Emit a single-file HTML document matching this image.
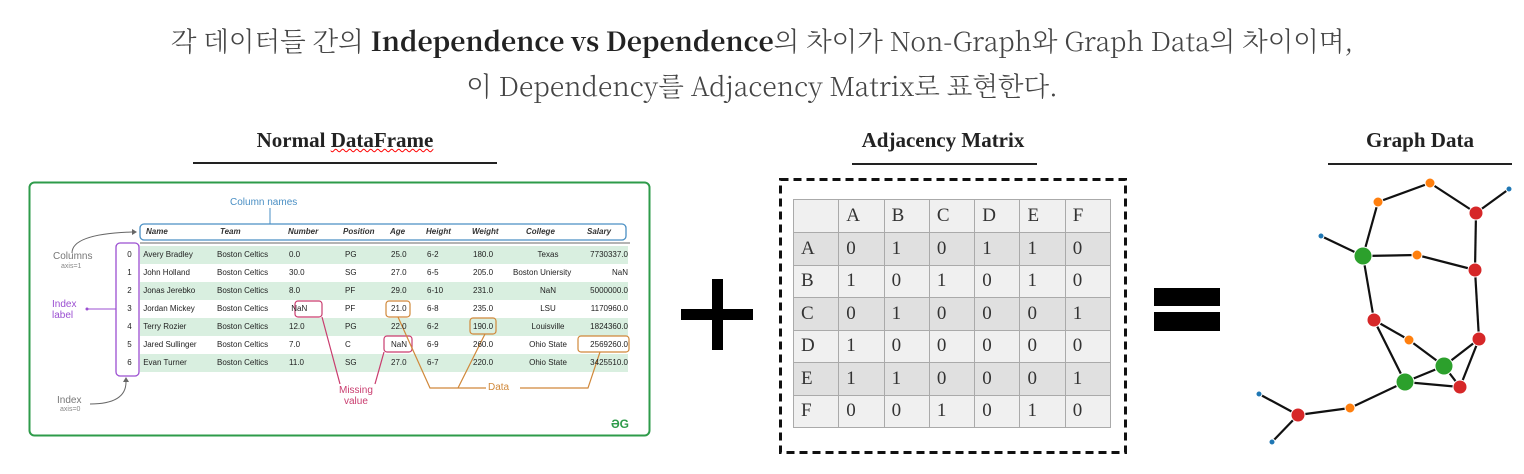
<!DOCTYPE html>
<html><head><meta charset="utf-8"><style>
body{margin:0;width:1524px;height:474px;background:#fff;overflow:hidden;position:relative;font-family:"Liberation Serif","Noto Serif CJK KR",serif;color:#333}
.a{position:absolute;white-space:nowrap}
.t{font-size:26.5px;color:#444;left:0;width:1524px;text-align:center;font-family:"Noto Serif CJK KR",serif;font-weight:300}
.h{font-size:21px;font-weight:bold;color:#222;text-align:center}
.u{position:absolute;height:2px;background:#222}
.df{font-family:"Liberation Sans","DejaVu Sans",sans-serif}
td{padding:0;white-space:nowrap}
</style></head><body>
<div class="a t" style="top:20px">각 데이터들 간의 <b style="color:#222;font-weight:bold">Independence vs Dependence</b>의 차이가 Non-Graph와 Graph Data의 차이이며,</div>
<div class="a t" style="top:65px">이 Dependency를 Adjacency Matrix로 표현한다.</div>

<div class="a h" style="left:193px;width:304px;top:128px">Normal <span style="text-decoration:underline wavy red;text-decoration-thickness:1px">DataFrame</span></div>
<div class="u" style="left:193px;width:304px;top:162px"></div>
<div class="a h" style="left:800px;width:286px;top:128px">Adjacency Matrix</div>
<div class="u" style="left:852px;width:185px;top:163px"></div>
<div class="a h" style="left:1320px;width:200px;top:128px">Graph Data</div>
<div class="u" style="left:1328px;width:184px;top:163px"></div>

<svg class="a" style="left:0;top:0" width="1524" height="474">
<rect x="29.5" y="182.5" width="620" height="253" rx="5" fill="#fff" stroke="#2e9b4a" stroke-width="2"/>
<g fill="#d9efe0"><rect x="140" y="246" width="488" height="18"/><rect x="140" y="282" width="488" height="18"/><rect x="140" y="318" width="488" height="18"/><rect x="140" y="354" width="488" height="18"/></g>
<rect x="140" y="224" width="486" height="16" rx="4" fill="none" stroke="#4a8fc4" stroke-width="1.3"/>
<line x1="140" y1="243" x2="630" y2="243" stroke="#888" stroke-width="1.2"/>
<line x1="270" y1="208" x2="270" y2="224" stroke="#4a8fc4"/>
<rect x="116" y="243" width="23" height="133" rx="4" fill="none" stroke="#9b4fd1" stroke-width="1.3"/>
<line x1="87" y1="309" x2="116" y2="309" stroke="#9b4fd1"/><circle cx="87" cy="309" r="1.5" fill="#9b4fd1"/>
<path d="M72 253 Q72 234 132 232" fill="none" stroke="#666"/><path d="M132 229 l5 3 l-5 3z" fill="#666"/>
<path d="M90 404 Q126 404 126 382" fill="none" stroke="#666"/><path d="M123 382 l3 -5 l3 5z" fill="#666"/>
<g fill="none" stroke-width="1.2">
<rect x="295" y="301" width="27" height="16" rx="3" stroke="#c93c6e"/>
<rect x="384" y="336" width="28" height="16" rx="3" stroke="#c93c6e"/>
<rect x="386" y="301" width="24" height="16" rx="3" stroke="#d0883a"/>
<rect x="470" y="318" width="26" height="16" rx="3" stroke="#d0883a"/>
<rect x="578" y="336" width="51" height="16" rx="3" stroke="#d0883a"/>
<path d="M322 317 L340 384 M384 352 L375 384" stroke="#c93c6e"/>
<path d="M398 317 L430 388 L486 388 M485 334 L458 388 M600 352 L588 388 L520 388" stroke="#d0883a"/>
</g>
<text x="620" y="428" font-family="Liberation Sans" font-size="12" fill="#2e9b4a" text-anchor="middle" font-weight="bold">ƏG</text>

<rect x="780.5" y="179.5" width="345" height="273" fill="none" stroke="#111" stroke-width="3" stroke-dasharray="8,5"/>
<path d="M681 309h72v11h-72z M712 279h11v71h-11z M1154 288h66v18h-66z M1154 312h66v19h-66z" fill="#000"/>

<g stroke="#111" stroke-width="2.2">
<line x1="1430" y1="183" x2="1378" y2="202"/><line x1="1430" y1="183" x2="1476" y2="213"/><line x1="1476" y1="213" x2="1509" y2="189"/>
<line x1="1378" y1="202" x2="1363" y2="256"/><line x1="1321" y1="236" x2="1363" y2="256"/><line x1="1363" y1="256" x2="1417" y2="255"/>
<line x1="1417" y1="255" x2="1475" y2="270"/><line x1="1476" y1="213" x2="1475" y2="270"/><line x1="1363" y1="256" x2="1374" y2="320"/>
<line x1="1475" y1="270" x2="1479" y2="339"/><line x1="1374" y1="320" x2="1409" y2="340"/><line x1="1409" y1="340" x2="1444" y2="366"/>
<line x1="1374" y1="320" x2="1405" y2="382"/><line x1="1479" y1="339" x2="1444" y2="366"/><line x1="1479" y1="339" x2="1460" y2="387"/>
<line x1="1444" y1="366" x2="1405" y2="382"/><line x1="1444" y1="366" x2="1460" y2="387"/><line x1="1405" y1="382" x2="1460" y2="387"/>
<line x1="1405" y1="382" x2="1350" y2="408"/><line x1="1350" y1="408" x2="1298" y2="415"/><line x1="1298" y1="415" x2="1259" y2="394"/><line x1="1298" y1="415" x2="1272" y2="442"/>
</g>
<g stroke="#fff" stroke-width="1">
<g fill="#ff7f0e"><circle cx="1430" cy="183" r="5"/><circle cx="1378" cy="202" r="5"/><circle cx="1417" cy="255" r="5"/><circle cx="1409" cy="340" r="5"/><circle cx="1350" cy="408" r="5"/></g>
<g fill="#d62728"><circle cx="1476" cy="213" r="7"/><circle cx="1475" cy="270" r="7"/><circle cx="1374" cy="320" r="7"/><circle cx="1479" cy="339" r="7"/><circle cx="1460" cy="387" r="7"/><circle cx="1298" cy="415" r="7"/></g>
<g fill="#2ca02c"><circle cx="1363" cy="256" r="9"/><circle cx="1444" cy="366" r="9"/><circle cx="1405" cy="382" r="9"/></g>
<g fill="#1f77b4"><circle cx="1509" cy="189" r="3"/><circle cx="1321" cy="236" r="3"/><circle cx="1259" cy="394" r="3"/><circle cx="1272" cy="442" r="3"/></g>
</g>
</svg>

<div class="a df" style="left:230px;top:197px;font-size:10px;color:#4a8fc4">Column names</div>
<div class="a df" style="left:53px;top:251px;font-size:10px;color:#777">Columns</div>
<div class="a df" style="left:61px;top:263px;font-size:7px;color:#888">axis=1</div>
<div class="a df" style="left:52px;top:299px;font-size:10px;line-height:11px;color:#9b4fd1">Index<br>label</div>
<div class="a df" style="left:57px;top:395px;font-size:10px;color:#777">Index</div>
<div class="a df" style="left:60px;top:406px;font-size:7px;color:#888">axis=0</div>
<div class="a df" style="left:339px;top:385px;font-size:10px;line-height:11px;color:#c93c6e;text-align:center">Missing<br>value</div>
<div class="a df" style="left:488px;top:382px;font-size:10px;color:#d0883a">Data</div>

<div style="position:absolute;left:0;top:0" class="df">
<div class="a" style="left:146px;top:227px;font-size:8px;font-style:italic;font-weight:bold">Name</div>
<div class="a" style="left:220px;top:227px;font-size:8px;font-style:italic;font-weight:bold">Team</div>
<div class="a" style="left:288px;top:227px;font-size:8px;font-style:italic;font-weight:bold">Number</div>
<div class="a" style="left:343px;top:227px;font-size:8px;font-style:italic;font-weight:bold">Position</div>
<div class="a" style="left:390px;top:227px;font-size:8px;font-style:italic;font-weight:bold">Age</div>
<div class="a" style="left:426px;top:227px;font-size:8px;font-style:italic;font-weight:bold">Height</div>
<div class="a" style="left:472px;top:227px;font-size:8px;font-style:italic;font-weight:bold">Weight</div>
<div class="a" style="left:526px;top:227px;font-size:8px;font-style:italic;font-weight:bold">College</div>
<div class="a" style="left:587px;top:227px;font-size:8px;font-style:italic;font-weight:bold">Salary</div>
</div>
<table class="df" style="position:absolute;left:118px;top:246px;border-collapse:collapse;font-size:8px;color:#222;table-layout:fixed;width:510px">
<colgroup><col style="width:23px"><col style="width:76px"><col style="width:72px"><col style="width:56px"><col style="width:46px"><col style="width:36px"><col style="width:46px"><col style="width:46px"><col style="width:58px"><col style="width:51px"></colgroup>
<tbody style="line-height:18px">
<tr style="height:18px"><td align=center>0</td><td>&nbsp;Avery Bradley</td><td>Boston Celtics</td><td>0.0</td><td>PG</td><td>25.0</td><td>6-2</td><td>180.0</td><td align=center>Texas</td><td align=right>7730337.0</td></tr>
<tr style="height:18px"><td align=center>1</td><td>&nbsp;John Holland</td><td>Boston Celtics</td><td>30.0</td><td>SG</td><td>27.0</td><td>6-5</td><td>205.0</td><td style="overflow:visible"><span style="margin-left:-6px">Boston Uniersity</span></td><td align=right>NaN</td></tr>
<tr style="height:18px"><td align=center>2</td><td>&nbsp;Jonas Jerebko</td><td>Boston Celtics</td><td>8.0</td><td>PF</td><td>29.0</td><td>6-10</td><td>231.0</td><td align=center>NaN</td><td align=right>5000000.0</td></tr>
<tr style="height:18px"><td align=center>3</td><td>&nbsp;Jordan Mickey</td><td>Boston Celtics</td><td>&nbsp;NaN</td><td>PF</td><td>21.0</td><td>6-8</td><td>235.0</td><td align=center>LSU</td><td align=right>1170960.0</td></tr>
<tr style="height:18px"><td align=center>4</td><td>&nbsp;Terry Rozier</td><td>Boston Celtics</td><td>12.0</td><td>PG</td><td>22.0</td><td>6-2</td><td>190.0</td><td align=center>Louisville</td><td align=right>1824360.0</td></tr>
<tr style="height:18px"><td align=center>5</td><td>&nbsp;Jared Sullinger</td><td>Boston Celtics</td><td>7.0</td><td>C</td><td>NaN</td><td>6-9</td><td>260.0</td><td align=center>Ohio State</td><td align=right>2569260.0</td></tr>
<tr style="height:18px"><td align=center>6</td><td>&nbsp;Evan Turner</td><td>Boston Celtics</td><td>11.0</td><td>SG</td><td>27.0</td><td>6-7</td><td>220.0</td><td align=center>Ohio State</td><td align=right>3425510.0</td></tr>
</tbody></table>

<style>.m td{border:1px solid #aaa;width:45.3px;height:32.5px;padding:0 0 0 7px;box-sizing:border-box}</style>
<table style="position:absolute;left:793px;top:199px;border-collapse:collapse;font-family:'Liberation Serif',serif;font-size:19px;color:#333;table-layout:fixed;width:317px">
<tbody class="m">
<tr style="background:#f0f0f0"><td style="height:33px"></td><td>A</td><td>B</td><td>C</td><td>D</td><td>E</td><td>F</td></tr>
<tr style="background:#e0e0e0"><td>A</td><td>0</td><td>1</td><td>0</td><td>1</td><td>1</td><td>0</td></tr>
<tr style="background:#f0f0f0"><td>B</td><td>1</td><td>0</td><td>1</td><td>0</td><td>1</td><td>0</td></tr>
<tr style="background:#e0e0e0"><td>C</td><td>0</td><td>1</td><td>0</td><td>0</td><td>0</td><td>1</td></tr>
<tr style="background:#f0f0f0"><td>D</td><td>1</td><td>0</td><td>0</td><td>0</td><td>0</td><td>0</td></tr>
<tr style="background:#e0e0e0"><td>E</td><td>1</td><td>1</td><td>0</td><td>0</td><td>0</td><td>1</td></tr>
<tr style="background:#f0f0f0"><td>F</td><td>0</td><td>0</td><td>1</td><td>0</td><td>1</td><td>0</td></tr>
</tbody></table>
</body></html>
